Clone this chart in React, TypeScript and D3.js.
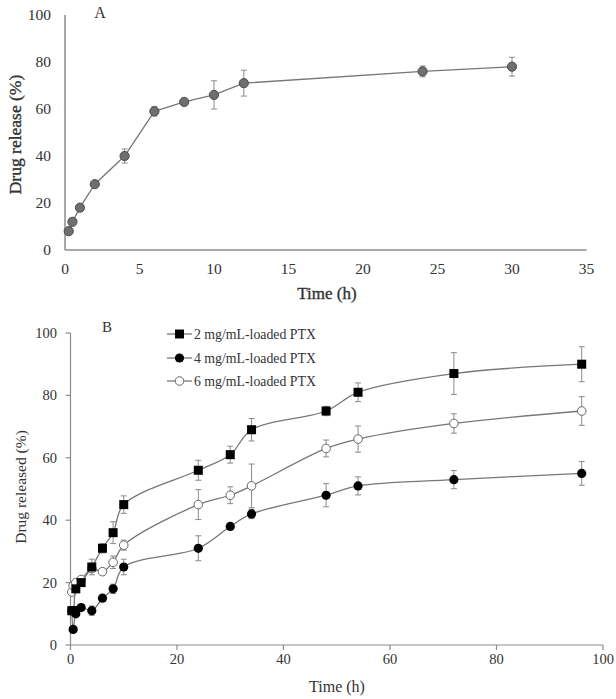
import React from "react";
import * as d3 from "d3";

// Panel A data
const timesA = [0.25, 0.5, 1, 2, 4, 6, 8, 10, 12, 24, 30];
const releaseA = [8, 12, 18, 28, 40, 59, 63, 66, 71, 76, 78];
const errA = [1, 1, 1, 1, 3, 2, 1, 6, 5.5, 2.3, 4];
const xTicksA = [0, 5, 10, 15, 20, 25, 30, 35];
const yTicksA = [0, 20, 40, 60, 80, 100];

// Panel B data
const timesB = [0.25, 0.5, 1, 2, 4, 6, 8, 10, 24, 30, 34, 48, 54, 72, 96];
const seriesNames = ["2 mg/mL-loaded PTX", "4 mg/mL-loaded PTX", "6 mg/mL-loaded PTX"];
const release2 = [11, 11, 18, 20, 25, 31, 36, 45, 56, 61, 69, 75, 81, 87, 90];
const release4 = [11, 5, 10, 12, 11, 15, 18, 25, 31, 38, 42, 48, 51, 53, 55];
const release6 = [17, 19, 20, 21, 24.5, 23.5, 26.5, 32, 45, 48, 51, 63, 66, 71, 75];
const err2 = [0.5, 0.5, 1, 1, 2.5, 1.5, 3.5, 2.8, 3.2, 2.7, 3.6, 1.5, 3, 6.7, 5.6];
const err4 = [0.5, 0.5, 0.5, 0.5, 1.5, 1, 1.5, 2.5, 4, 1, 1.5, 3.7, 2.9, 2.9, 3.8];
const err6 = [0.5, 0.5, 0.5, 0.5, 1, 1, 2, 1.6, 4.8, 2.7, 7, 2.7, 4.2, 3.1, 4.6];
const xTicksB = [0, 20, 40, 60, 80, 100];
const yTicksB = [0, 20, 40, 60, 80, 100];

const FONT = "'Liberation Serif', 'Times New Roman', serif";
const AXIS = "#8c8c8c";
const TEXT = "#333";
const LINE = "#777";
const ERR = "#8a8a8a";

type Marker = "square" | "dot" | "open";

function MarkerShape({ kind, x, y }: { kind: Marker; x: number; y: number }) {
  if (kind === "square") return <rect x={x - 4.5} y={y - 4.5} width={9} height={9} fill="#000" />;
  if (kind === "dot") return <circle cx={x} cy={y} r={4.6} fill="#000" />;
  return <circle cx={x} cy={y} r={4.3} fill="#fff" stroke="#666" strokeWidth={1} />;
}

export default function App() {
  // Panel A scales
  const xA = d3.scaleLinear().domain([0, 35]).range([65, 586.5]);
  const yA = d3.scaleLinear().domain([0, 100]).range([250, 15]);
  const lineA = d3
    .line<number>()
    .x((_, i) => xA(timesA[i]))
    .y((d) => yA(d));

  // Panel B scales
  const xB = d3.scaleLinear().domain([0, 100]).range([70.5, 603]);
  const yB = d3.scaleLinear().domain([0, 100]).range([645, 333]);
  const lineB = d3
    .line<number>()
    .x((_, i) => xB(timesB[i]))
    .y((d) => yB(d))
    .curve(d3.curveCatmullRom.alpha(0.5));

  const seriesB: { vals: number[]; errs: number[]; kind: Marker }[] = [
    { vals: release6, errs: err6, kind: "open" },
    { vals: release4, errs: err4, kind: "dot" },
    { vals: release2, errs: err2, kind: "square" },
  ];
  const legendKinds: Marker[] = ["square", "dot", "open"];
  const legendY = [334, 358, 381];

  return (
    <svg
      width={616}
      height={699}
      style={{ position: "absolute", left: 0, top: 0, background: "#fff" }}
      fontFamily={FONT}
    >
      {/* ---------- Panel A ---------- */}
      <g>
        <line x1={xA(0)} x2={xA(0)} y1={yA(0)} y2={yA(100)} stroke={AXIS} strokeWidth={1.5} />
        <line x1={xA(0)} x2={xA(35)} y1={yA(0)} y2={yA(0)} stroke={AXIS} strokeWidth={1.5} />
        {yTicksA.map((t) => (
          <text key={t} x={51} y={yA(t)} dy="0.35em" textAnchor="end" fontSize={15.5} fill={TEXT}>
            {t}
          </text>
        ))}
        {xTicksA.map((t) => (
          <text key={t} x={xA(t)} y={269} dy="0.35em" textAnchor="middle" fontSize={15.5} fill={TEXT}>
            {t}
          </text>
        ))}
        <text x={327} y={293} dy="0.35em" textAnchor="middle" fontSize={17} fill={TEXT} stroke={TEXT} strokeWidth={0.35}>
          Time (h)
        </text>
        <text
          transform={`translate(15,${yA(50) + 2}) rotate(-90)`}
          dy="0.35em"
          textAnchor="middle"
          fontSize={17.5}
          fill={TEXT}
          stroke={TEXT}
          strokeWidth={0.35}
        >
          Drug release (%)
        </text>
        <text x={100} y={12} dy="0.35em" textAnchor="middle" fontSize={16} fill={TEXT}>
          A
        </text>
        {releaseA.map((v, i) => (
          <g key={i} stroke={ERR} strokeWidth={1}>
            <line x1={xA(timesA[i])} x2={xA(timesA[i])} y1={yA(v - errA[i])} y2={yA(v + errA[i])} />
            <line x1={xA(timesA[i]) - 3} x2={xA(timesA[i]) + 3} y1={yA(v - errA[i])} y2={yA(v - errA[i])} />
            <line x1={xA(timesA[i]) - 3} x2={xA(timesA[i]) + 3} y1={yA(v + errA[i])} y2={yA(v + errA[i])} />
          </g>
        ))}
        <path d={lineA(releaseA) || ""} fill="none" stroke={LINE} strokeWidth={1.3} />
        {releaseA.map((v, i) => (
          <circle key={i} cx={xA(timesA[i])} cy={yA(v)} r={4.6} fill="#6f6f6f" stroke="#4a4a4a" strokeWidth={1} />
        ))}
      </g>

      {/* ---------- Panel B ---------- */}
      <g>
        <line x1={xB(0)} x2={xB(0)} y1={yB(0)} y2={yB(100)} stroke={AXIS} strokeWidth={1.2} />
        <line x1={xB(0)} x2={xB(100)} y1={yB(0)} y2={yB(0)} stroke={AXIS} strokeWidth={1.2} />
        {yTicksB.map((t) => (
          <g key={t}>
            <line x1={xB(0) - 5} x2={xB(0)} y1={yB(t)} y2={yB(t)} stroke={AXIS} strokeWidth={1.2} />
            <text x={57} y={yB(t)} dy="0.35em" textAnchor="end" fontSize={14.5} fill={TEXT}>
              {t}
            </text>
          </g>
        ))}
        {xTicksB.map((t) => (
          <g key={t}>
            <line x1={xB(t)} x2={xB(t)} y1={yB(0)} y2={yB(0) + 5} stroke={AXIS} strokeWidth={1.2} />
            <text x={xB(t)} y={659} dy="0.35em" textAnchor="middle" fontSize={14.5} fill={TEXT}>
              {t}
            </text>
          </g>
        ))}
        <text x={337} y={686} dy="0.35em" textAnchor="middle" fontSize={16} fill={TEXT}>
          Time (h)
        </text>
        <text
          transform={`translate(21,${yB(50) - 2}) rotate(-90)`}
          dy="0.35em"
          textAnchor="middle"
          fontSize={15.5}
          fill={TEXT}
        >
          Drug released (%)
        </text>
        <text x={107} y={327} dy="0.35em" textAnchor="middle" fontSize={15} fill={TEXT}>
          B
        </text>

        {seriesB.map((s, si) => (
          <g key={si}>
            {s.vals.map((v, i) => (
              <g key={i} stroke={ERR} strokeWidth={1}>
                <line x1={xB(timesB[i])} x2={xB(timesB[i])} y1={yB(v - s.errs[i])} y2={yB(v + s.errs[i])} />
                <line x1={xB(timesB[i]) - 3} x2={xB(timesB[i]) + 3} y1={yB(v - s.errs[i])} y2={yB(v - s.errs[i])} />
                <line x1={xB(timesB[i]) - 3} x2={xB(timesB[i]) + 3} y1={yB(v + s.errs[i])} y2={yB(v + s.errs[i])} />
              </g>
            ))}
            <path d={lineB(s.vals) || ""} fill="none" stroke={LINE} strokeWidth={1.3} />
            {s.vals.map((v, i) => (
              <MarkerShape key={i} kind={s.kind} x={xB(timesB[i])} y={yB(v)} />
            ))}
          </g>
        ))}

        {seriesNames.map((n, i) => (
          <g key={n}>
            <line x1={167} x2={192} y1={legendY[i]} y2={legendY[i]} stroke={LINE} strokeWidth={1.3} />
            <MarkerShape kind={legendKinds[i]} x={179.5} y={legendY[i]} />
            <text x={194} y={legendY[i]} dy="0.35em" fontSize={13.8} fill={TEXT}>
              {n}
            </text>
          </g>
        ))}
      </g>
    </svg>
  );
}
